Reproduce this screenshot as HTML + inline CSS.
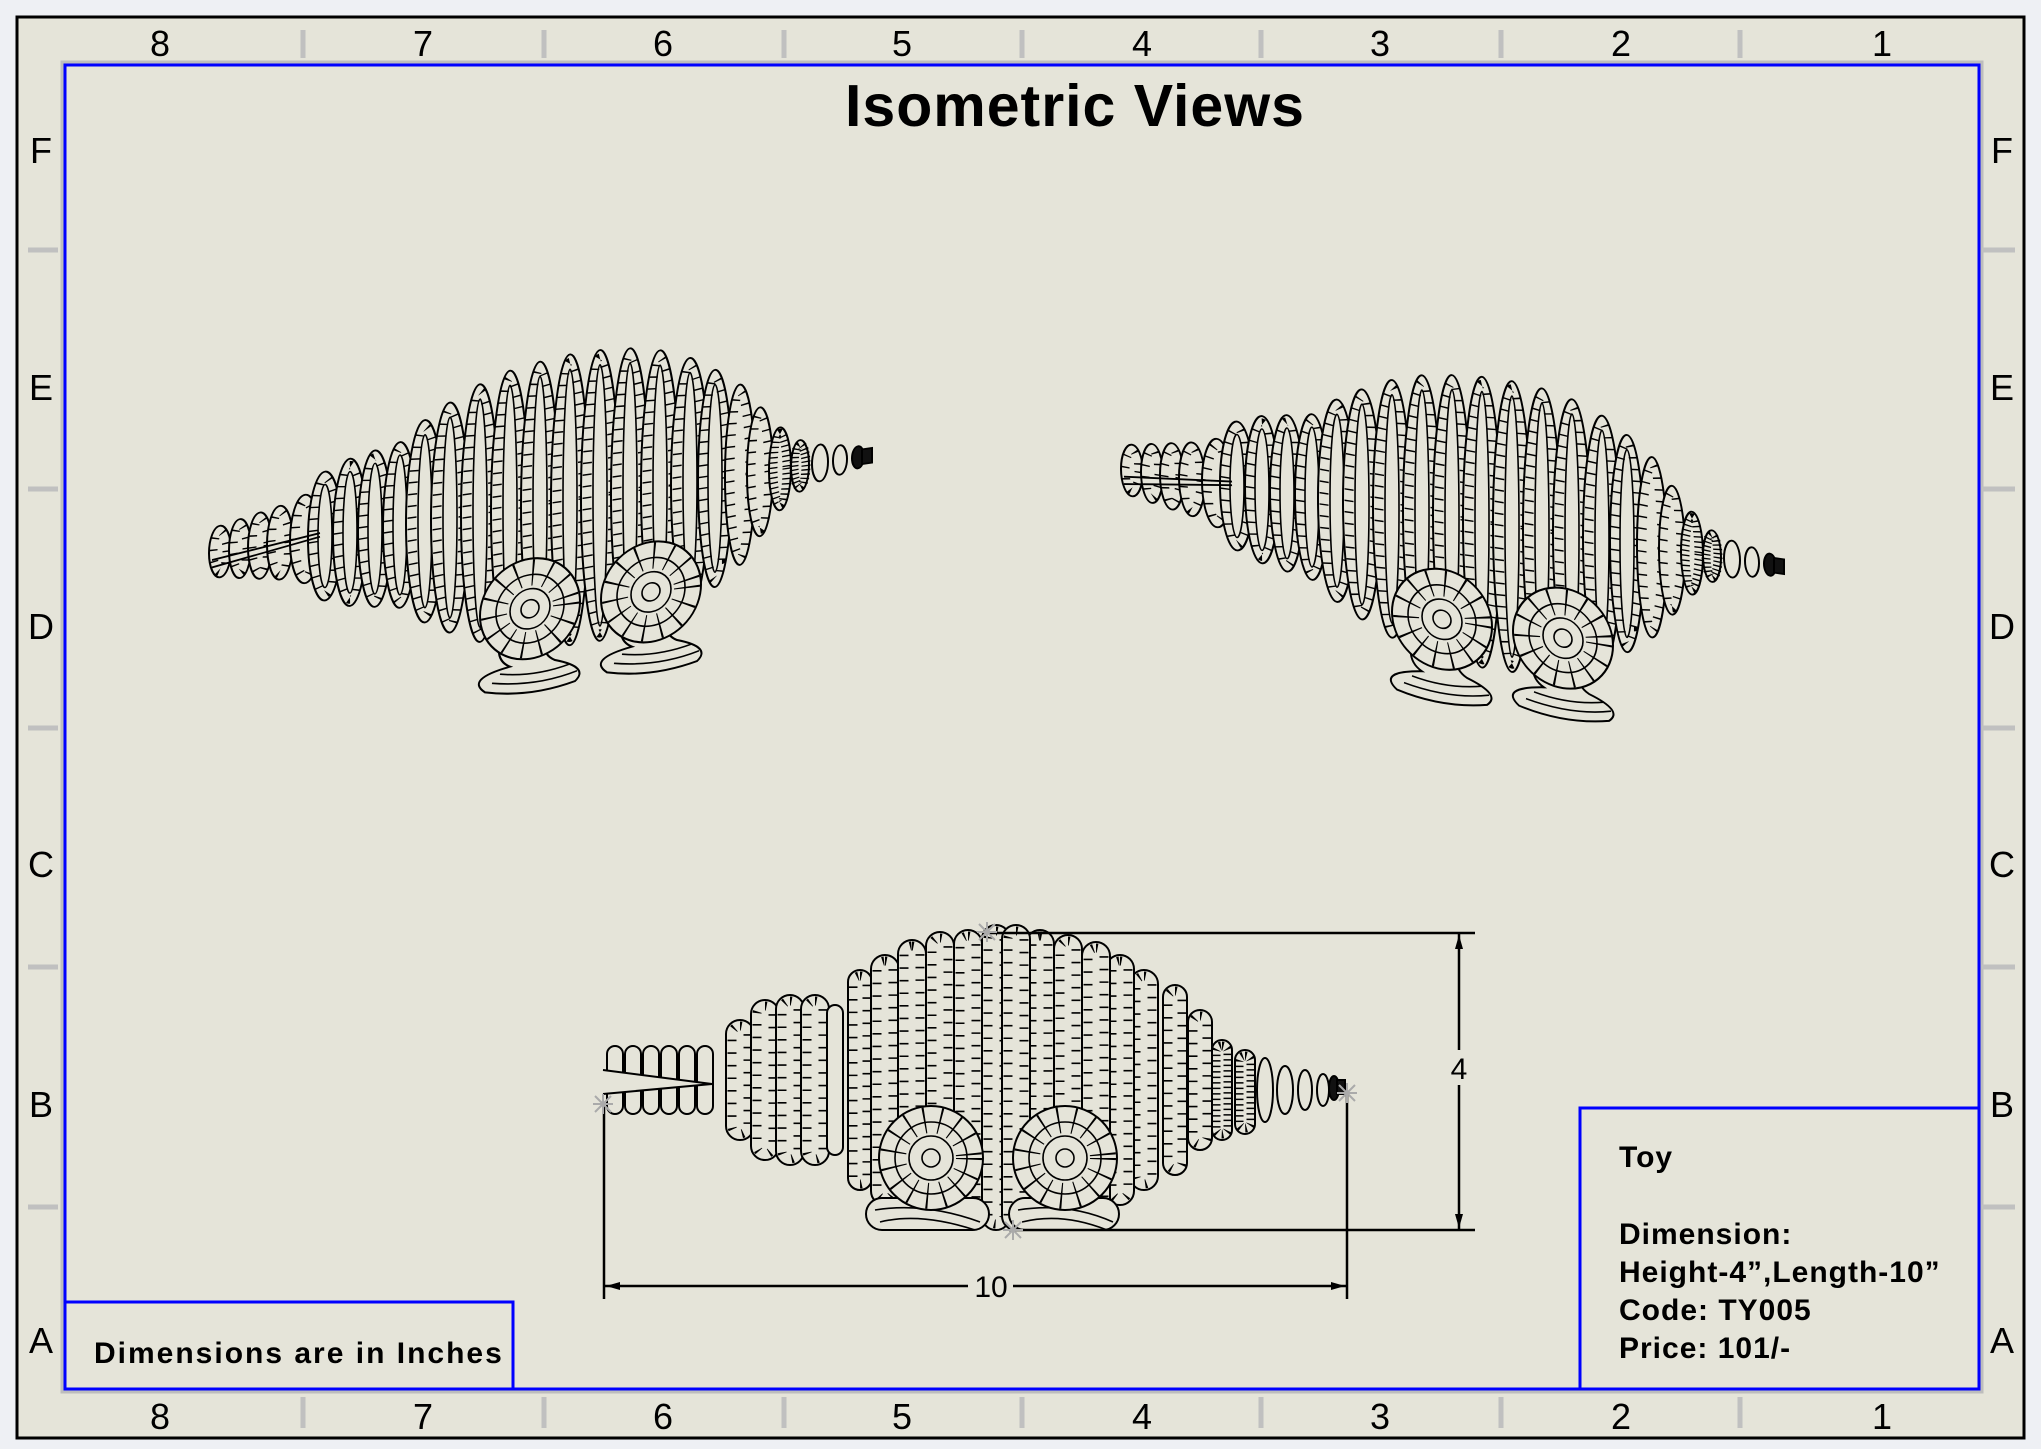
<!DOCTYPE html>
<html><head><meta charset="utf-8"><style>
html,body{margin:0;padding:0;background:#eef0f4;}
svg{display:block;}
text{font-family:"Liberation Sans",sans-serif;}
.o{fill:#e5e4d9;stroke:#000;stroke-width:2}
.t{fill:none;stroke:#000;stroke-width:9;stroke-dasharray:1.6 11}
.i{fill:none;stroke:#000;stroke-width:1.6}
.d{fill:#111;stroke:#000;stroke-width:2}
</style></head><body>
<svg width="2041" height="1449" viewBox="0 0 2041 1449" xmlns="http://www.w3.org/2000/svg">
<defs>
<g id="toy">
<g transform="scale(1,0.92)">
<ellipse class="o" cx="10" cy="0" rx="11" ry="28"/><ellipse class="t" cx="10" cy="0" rx="7" ry="22"/>
<ellipse class="o" cx="30" cy="0" rx="11" ry="32"/><ellipse class="t" cx="30" cy="0" rx="7" ry="26"/>
<ellipse class="o" cx="50" cy="0" rx="12" ry="36"/><ellipse class="t" cx="50" cy="0" rx="8" ry="30"/>
<ellipse class="o" cx="70" cy="0" rx="13" ry="40"/><ellipse class="t" cx="70" cy="0" rx="9" ry="34"/>
<ellipse class="o" cx="95" cy="0" rx="15" ry="48"/><ellipse class="t" cx="95" cy="0" rx="10" ry="41"/>
<ellipse class="o" cx="115" cy="0" rx="17" ry="70"/><ellipse class="t" cx="115" cy="0" rx="12" ry="63"/><ellipse class="i" cx="115" cy="0" rx="7" ry="56"/>
<ellipse class="o" cx="140" cy="0" rx="17" ry="80"/><ellipse class="t" cx="140" cy="0" rx="12" ry="73"/><ellipse class="i" cx="140" cy="0" rx="7" ry="66"/>
<ellipse class="o" cx="165" cy="0" rx="17" ry="85"/><ellipse class="t" cx="165" cy="0" rx="12" ry="78"/><ellipse class="i" cx="165" cy="0" rx="7" ry="71"/>
<ellipse class="o" cx="190" cy="0" rx="17" ry="90"/><ellipse class="t" cx="190" cy="0" rx="12" ry="83"/><ellipse class="i" cx="190" cy="0" rx="7" ry="76"/>
<ellipse class="o" cx="215" cy="0" rx="19" ry="110"/><ellipse class="t" cx="215" cy="0" rx="13" ry="102"/><ellipse class="i" cx="215" cy="0" rx="7" ry="94"/>
<ellipse class="o" cx="240" cy="0" rx="19" ry="125"/><ellipse class="t" cx="240" cy="0" rx="13" ry="117"/><ellipse class="i" cx="240" cy="0" rx="7" ry="109"/>
<ellipse class="o" cx="270" cy="0" rx="19" ry="140"/><ellipse class="t" cx="270" cy="0" rx="13" ry="132"/><ellipse class="i" cx="270" cy="0" rx="7" ry="124"/>
<ellipse class="o" cx="300" cy="0" rx="19" ry="150"/><ellipse class="t" cx="300" cy="0" rx="13" ry="142"/><ellipse class="i" cx="300" cy="0" rx="7" ry="134"/>
<ellipse class="o" cx="330" cy="0" rx="19" ry="155"/><ellipse class="t" cx="330" cy="0" rx="13" ry="147"/><ellipse class="i" cx="330" cy="0" rx="7" ry="139"/>
<ellipse class="o" cx="360" cy="0" rx="19" ry="158"/><ellipse class="t" cx="360" cy="0" rx="13" ry="150"/><ellipse class="i" cx="360" cy="0" rx="7" ry="142"/>
<ellipse class="o" cx="390" cy="0" rx="19" ry="158"/><ellipse class="t" cx="390" cy="0" rx="13" ry="150"/><ellipse class="i" cx="390" cy="0" rx="7" ry="142"/>
<ellipse class="o" cx="420" cy="0" rx="19" ry="155"/><ellipse class="t" cx="420" cy="0" rx="13" ry="147"/><ellipse class="i" cx="420" cy="0" rx="7" ry="139"/>
<ellipse class="o" cx="450" cy="0" rx="19" ry="148"/><ellipse class="t" cx="450" cy="0" rx="13" ry="140"/><ellipse class="i" cx="450" cy="0" rx="7" ry="132"/>
<ellipse class="o" cx="480" cy="0" rx="19" ry="135"/><ellipse class="t" cx="480" cy="0" rx="13" ry="127"/><ellipse class="i" cx="480" cy="0" rx="7" ry="119"/>
<ellipse class="o" cx="505" cy="0" rx="17" ry="118"/><ellipse class="t" cx="505" cy="0" rx="12" ry="110"/><ellipse class="i" cx="505" cy="0" rx="7" ry="102"/>
<ellipse class="o" cx="530" cy="0" rx="15" ry="98"/><ellipse class="t" cx="530" cy="0" rx="10" ry="90"/>
<ellipse class="o" cx="550" cy="0" rx="13" ry="70"/><ellipse class="t" cx="550" cy="0" rx="9" ry="63"/>
<ellipse class="o" cx="570" cy="0" rx="11" ry="45"/><ellipse class="t" cx="570" cy="0" rx="7" ry="39" style="stroke-dasharray:1.5 4"/>
<ellipse class="o" cx="590" cy="0" rx="9" ry="28"/><ellipse class="t" cx="590" cy="0" rx="6" ry="23" style="stroke-dasharray:1.5 3"/>
<ellipse class="o" cx="610" cy="0" rx="8" ry="20"/>
<ellipse class="o" cx="630" cy="0" rx="7" ry="16"/>
<ellipse class="d" cx="648" cy="0" rx="6" ry="12"/>
<rect class="d" x="652" y="-8" width="10" height="16"/>
<path d="M2 8 L110 -4 M2 16 L110 0" stroke="#000" stroke-width="2" fill="none"/>
</g>
<g>
<path class="o" d="M290 130 q-5 20 10 28 q-45 6 -25 22 q45 12 90 2 q15 -12 -20 -24 q-15 -8 -10 -28z"/>
<path class="i" d="M282 172 q45 10 85 0 M290 164 q35 8 70 0"/>
<path class="o" d="M412 128 q-5 20 10 28 q-45 6 -25 22 q45 12 90 2 q15 -12 -20 -24 q-15 -8 -10 -28z"/>
<path class="i" d="M404 170 q45 10 85 0 M412 162 q35 8 70 0"/>
<circle class="o" cx="320" cy="103" r="50"/><circle class="t" cx="320" cy="103" r="36" style="stroke-width:26;stroke-dasharray:1.6 14"/>
<circle class="i" cx="320" cy="103" r="34"/><circle class="i" cx="320" cy="103" r="20"/><circle class="i" cx="320" cy="103" r="9"/>
<circle class="o" cx="441" cy="104" r="50"/><circle class="t" cx="441" cy="104" r="36" style="stroke-width:26;stroke-dasharray:1.6 14"/>
<circle class="i" cx="441" cy="104" r="34"/><circle class="i" cx="441" cy="104" r="20"/><circle class="i" cx="441" cy="104" r="9"/>
</g>
</g>
</defs>

<rect x="17" y="17" width="2007" height="1421" fill="#e5e4d9" stroke="#000" stroke-width="3"/>
<rect x="62" y="62" width="1920" height="1330" fill="none" stroke="#bdbdbd" stroke-width="3"/>
<rect x="65" y="65" width="1914" height="1324" fill="none" stroke="#0000ff" stroke-width="3"/>

<g stroke="#c0c0c0" stroke-width="5">
<path d="M303 30V58M544 30V58M784 30V58M1022 30V58M1261 30V58M1501 30V58M1740 30V58"/>
<path d="M303 1397V1428M544 1397V1428M784 1397V1428M1022 1397V1428M1261 1397V1428M1501 1397V1428M1740 1397V1428"/>
<path d="M28 250H58M28 489H58M28 728H58M28 967H58M28 1207H58"/>
<path d="M1982 250H2015M1982 489H2015M1982 728H2015M1982 967H2015M1982 1207H2015"/>
</g>
<g font-size="36" text-anchor="middle" fill="#000">
<text x="160" y="56">8</text><text x="423" y="56">7</text><text x="663" y="56">6</text><text x="902" y="56">5</text><text x="1142" y="56">4</text><text x="1380" y="56">3</text><text x="1621" y="56">2</text><text x="1882" y="56">1</text>
<text x="160" y="1429">8</text><text x="423" y="1429">7</text><text x="663" y="1429">6</text><text x="902" y="1429">5</text><text x="1142" y="1429">4</text><text x="1380" y="1429">3</text><text x="1621" y="1429">2</text><text x="1882" y="1429">1</text>
<text x="41" y="163">F</text><text x="41" y="400">E</text><text x="41" y="639">D</text><text x="41" y="877">C</text><text x="41" y="1117">B</text><text x="41" y="1353">A</text>
<text x="2002" y="163">F</text><text x="2002" y="400">E</text><text x="2002" y="639">D</text><text x="2002" y="877">C</text><text x="2002" y="1117">B</text><text x="2002" y="1353">A</text>
</g>

<text x="1075" y="126" font-size="59" font-weight="bold" text-anchor="middle" letter-spacing="1">Isometric Views</text>

<use href="#toy" transform="translate(210,553) skewY(-8.4)"/>
<use href="#toy" transform="translate(1122,469) skewY(8.4)"/>

<g>
<rect class="o" x="607" y="1046" width="16" height="68" rx="8"/><rect class="o" x="625" y="1046" width="16" height="68" rx="8"/><rect class="o" x="643" y="1046" width="16" height="68" rx="8"/><rect class="o" x="661" y="1046" width="16" height="68" rx="8"/><rect class="o" x="679" y="1046" width="16" height="68" rx="8"/><rect class="o" x="697" y="1046" width="16" height="68" rx="8"/>
<path d="M603 1070 L712 1084 L603 1094" fill="#e5e4d9" stroke="#000" stroke-width="2"/>
<rect class="o" x="726" y="1020" width="28" height="120" rx="14"/><rect class="t" x="732" y="1026" width="16" height="108" rx="8"/>
<rect class="o" x="751" y="1000" width="28" height="160" rx="14"/><rect class="t" x="757" y="1006" width="16" height="148" rx="8"/>
<rect class="o" x="776" y="995" width="28" height="170" rx="14"/><rect class="t" x="782" y="1001" width="16" height="158" rx="8"/>
<rect class="o" x="801" y="995" width="28" height="170" rx="14"/><rect class="t" x="807" y="1001" width="16" height="158" rx="8"/>
<rect class="o" x="827" y="1005" width="16" height="150" rx="8"/>
<rect class="o" x="848" y="970" width="24" height="220" rx="12"/><rect class="t" x="853" y="976" width="14" height="208" rx="7"/>
<rect class="o" x="871" y="955" width="28" height="250" rx="14"/><rect class="t" x="877" y="961" width="16" height="238" rx="8"/>
<rect class="o" x="898" y="940" width="28" height="275" rx="14"/><rect class="t" x="904" y="946" width="16" height="263" rx="8"/>
<rect class="o" x="926" y="932" width="28" height="290" rx="14"/><rect class="t" x="932" y="938" width="16" height="278" rx="8"/>
<rect class="o" x="954" y="930" width="28" height="295" rx="14"/><rect class="t" x="960" y="936" width="16" height="283" rx="8"/>
<rect class="o" x="1130" y="970" width="28" height="220" rx="14"/><rect class="t" x="1136" y="976" width="16" height="208" rx="8"/>
<rect class="o" x="1106" y="955" width="28" height="250" rx="14"/><rect class="t" x="1112" y="961" width="16" height="238" rx="8"/>
<rect class="o" x="1082" y="942" width="28" height="276" rx="14"/><rect class="t" x="1088" y="948" width="16" height="264" rx="8"/>
<rect class="o" x="1054" y="935" width="28" height="290" rx="14"/><rect class="t" x="1060" y="941" width="16" height="278" rx="8"/>
<rect class="o" x="1026" y="930" width="28" height="300" rx="14"/><rect class="t" x="1032" y="936" width="16" height="288" rx="8"/>
<rect class="o" x="982" y="925" width="28" height="305" rx="14"/><rect class="t" x="988" y="931" width="16" height="293" rx="8"/>
<rect class="o" x="1002" y="925" width="28" height="305" rx="14"/><rect class="t" x="1008" y="931" width="16" height="293" rx="8"/>
<rect class="o" x="1163" y="985" width="24" height="190" rx="12"/><rect class="t" x="1168" y="991" width="14" height="178" rx="7"/>
<rect class="o" x="1188" y="1010" width="24" height="140" rx="12"/><rect class="t" x="1193" y="1016" width="14" height="128" rx="7"/>
<rect class="o" x="1212" y="1040" width="20" height="100" rx="10"/><rect class="t" x="1216" y="1046" width="12" height="88" rx="6" style="stroke-dasharray:1.5 4"/>
<rect class="o" x="1235" y="1050" width="20" height="84" rx="10"/><rect class="t" x="1239" y="1056" width="12" height="72" rx="6" style="stroke-dasharray:1.5 4"/>
<ellipse class="o" cx="1265" cy="1090" rx="8" ry="32"/><ellipse class="o" cx="1285" cy="1090" rx="8" ry="24"/>
<ellipse class="o" cx="1305" cy="1090" rx="7" ry="20"/><ellipse class="o" cx="1323" cy="1090" rx="6" ry="16"/>
<ellipse class="d" cx="1334" cy="1088" rx="5" ry="12"/><rect class="d" x="1337" y="1080" width="8" height="14"/>
<rect class="o" x="866" y="1198" width="123" height="32" rx="16"/><path class="i" d="M875 1210 q50 -8 105 12 M880 1222 q40 -10 95 8"/>
<rect class="o" x="1009" y="1198" width="110" height="32" rx="16"/><path class="i" d="M1018 1210 q50 -8 95 12 M1022 1222 q40 -10 85 8"/>
<circle class="o" cx="931" cy="1158" r="52"/><circle class="t" cx="931" cy="1158" r="38" style="stroke-width:26;stroke-dasharray:1.6 14"/><circle class="i" cx="931" cy="1158" r="36"/><circle class="i" cx="931" cy="1158" r="22"/><circle class="i" cx="931" cy="1158" r="9"/>
<circle class="o" cx="1065" cy="1158" r="52"/><circle class="t" cx="1065" cy="1158" r="38" style="stroke-width:26;stroke-dasharray:1.6 14"/><circle class="i" cx="1065" cy="1158" r="36"/><circle class="i" cx="1065" cy="1158" r="22"/><circle class="i" cx="1065" cy="1158" r="9"/>
</g>

<g stroke="#000" stroke-width="2.5" fill="none">
<path d="M989 933H1475M1009 1230H1475M1459 933V1050M1459 1085V1230"/>
<path d="M604 1104V1299M1347 1093V1299"/>
<path d="M604 1286H968M1013 1286H1347"/>
</g>
<g fill="#000">
<path d="M1459 935l-4 14h8z M1459 1228l-4 -14h8z M606 1286l14 -4v8z M1345 1286l-14 -4v8z"/>
</g>
<text x="1459" y="1079" font-size="30" text-anchor="middle">4</text>
<text x="991" y="1297" font-size="30" text-anchor="middle">10</text>
<g stroke="#aaa" stroke-width="2">
<path d="M595 1096l16 16M611 1096l-16 16M603 1094v20M593 1104h20"/>
<path d="M979 924l16 16M995 924l-16 16M987 922v20M977 932h20"/>
<path d="M1005 1222l16 16M1021 1222l-16 16M1013 1220v20M1003 1230h20"/>
<path d="M1339 1085l16 16M1355 1085l-16 16M1347 1083v20M1337 1093h20"/>
</g>

<rect x="1580" y="1108" width="399" height="281" fill="none" stroke="#0000ff" stroke-width="3"/>
<g font-size="30" font-weight="bold" letter-spacing="1">
<text x="1619" y="1167">Toy</text>
<text x="1619" y="1244">Dimension:</text>
<text x="1619" y="1282">Height-4”,Length-10”</text>
<text x="1619" y="1320">Code: TY005</text>
<text x="1619" y="1358">Price: 101/-</text>
</g>
<rect x="65" y="1302" width="448" height="87" fill="none" stroke="#0000ff" stroke-width="3"/>
<text x="94" y="1363" font-size="30" font-weight="bold" letter-spacing="2">Dimensions are in Inches</text>
</svg>
</body></html>
